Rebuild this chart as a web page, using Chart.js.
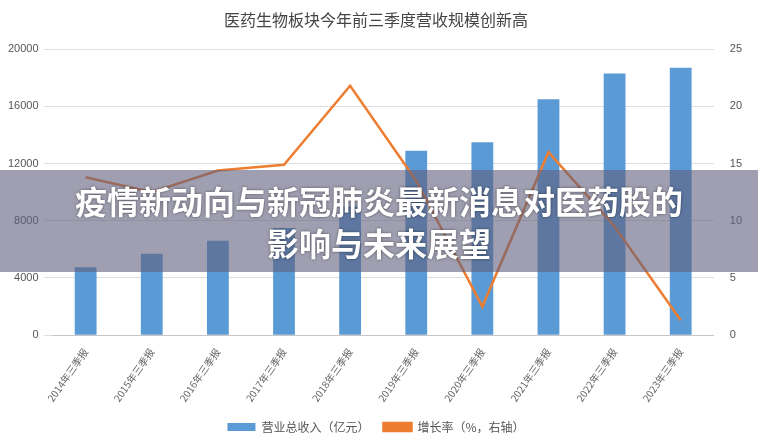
<!DOCTYPE html><html><head><meta charset="utf-8"><script src="https://cdn.jsdelivr.net/npm/chart.js@4"></script>
<style>body{margin:0;background:#fff}#w{position:relative;width:758px;height:443px}
#b{position:absolute;left:0;top:170px;width:758px;height:102px;background:rgba(95,95,125,0.6);color:#fff;font:bold 32px "Noto Sans CJK SC";text-align:center;display:flex;align-items:center;justify-content:center;line-height:42px;text-shadow:0 0 3px rgba(0,0,0,0.5)}</style></head><body><div id="w"><canvas id="c" width="758" height="443"></canvas><div id="b">疫情新动向与新冠肺炎最新消息对医药股的<br>影响与未来展望</div></div>
<script>
const categories=['2014年三季报','2015年三季报','2016年三季报','2017年三季报','2018年三季报','2019年三季报','2020年三季报','2021年三季报','2022年三季报','2023年三季报'];
const revenue=[4750,5700,6600,7500,9000,12900,13500,16500,18300,18700];
const growth=[13.8,12.5,14.4,14.9,21.8,13.5,2.5,16.0,9.5,1.3];
const leftTicks=[0,4000,8000,12000,16000,20000];
new Chart(document.getElementById('c'),{data:{labels:categories,datasets:[
{type:'line',label:'增长率（%，右轴）',data:growth,yAxisID:'y1',borderColor:'#ED7D31',backgroundColor:'#ED7D31',borderWidth:2.5,pointRadius:0,tension:0},
{type:'bar',label:'营业总收入（亿元）',data:revenue,yAxisID:'y',backgroundColor:'#5B9BD5',categoryPercentage:0.6,barPercentage:0.55}]},
options:{responsive:false,animation:false,layout:{padding:{left:2,right:8,top:8,bottom:0}},
plugins:{title:{display:true,text:'医药生物板块今年前三季度营收规模创新高',font:{family:'Noto Sans CJK SC',size:16,weight:'normal'},color:'#444',padding:{top:2,bottom:20}},
legend:{position:'bottom',reverse:true,labels:{font:{family:'Noto Sans CJK SC',size:12},color:'#555',boxWidth:28,boxHeight:8,padding:14}}},
scales:{x:{grid:{display:false},ticks:{maxRotation:55,minRotation:55,font:{family:'Noto Sans CJK SC',size:10},color:'#666'}},
y:{min:0,max:20000,afterBuildTicks:a=>{a.ticks=leftTicks.map(v=>({value:v}))},ticks:{color:'#555',font:{size:11},padding:6,callback:v=>String(v)},grid:{color:'#ddd'},border:{display:false}},
y1:{position:'right',min:0,max:25,ticks:{stepSize:5,color:'#555',font:{size:11},padding:8},grid:{display:false},border:{display:false}}}}});
</script></body></html>
